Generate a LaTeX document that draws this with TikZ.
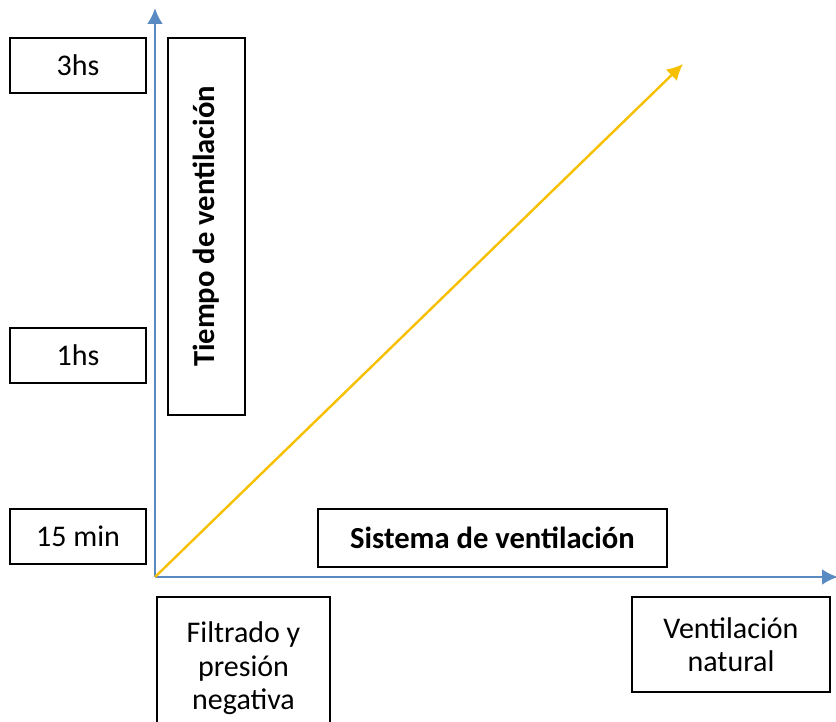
\documentclass[tikz,border=0pt]{standalone}
\usepackage{fontspec}
\setmainfont{Carlito}
\usetikzlibrary{arrows.meta}

\definecolor{axisblue}{HTML}{5A8AC2}
\definecolor{trendyellow}{HTML}{F6C000}

\begin{document}
\begin{tikzpicture}[
      x=0.5pt, y=-0.5pt,
      box/.style = {draw, line width=0.9pt, inner sep=0pt, align=center,
                    font=\fontsize{15}{16.8}\selectfont},
      tickbox/.style = {box, minimum width=68pt, minimum height=27.5pt},
      axis/.style = {axisblue, line width=1.4pt},
      trend/.style = {trendyellow, line width=1.2pt},
      >={Latex[length=8pt,width=8pt]}
    ]
    \useasboundingbox (0,0) rectangle (836,722);

    % ejes
    \coordinate (origin) at (155,577);
    \coordinate (ytip)   at (155,8);
    \coordinate (xtip)   at (838,577);
    \coordinate (ttip)   at (683,64);

    \draw[axis,->] (origin) -- (ytip);
    \draw[axis,->] (origin) -- (xtip);
    \draw[trend,->] (origin) -- (ttip);

    % niveles de tiempo
    \foreach \name/\y/\txt in {tres/65.5/3hs, una/355.5/1hs, quince/536.5/15 min}{
      \node[tickbox] (\name) at (78,\y) {\txt};
    }

    % titulos de los ejes
    \node[box, minimum width=38.5pt, minimum height=188.5pt] (tiempo) at (206.5,226.5) {};
    \node[font=\fontsize{15.3}{16.8}\selectfont\bfseries, rotate=90] (tiempolbl) at (tiempo.center) {Tiempo de ventilación};
    \node[box, font=\fontsize{15.3}{16.8}\selectfont\bfseries,
          minimum width=174.5pt, minimum height=29pt] (sistema) at (492.5,538) {Sistema de ventilación};

    % sistemas
    \node[box, minimum width=86.5pt, minimum height=71.5pt] (filtrado) at (243.5,668.5)
      {Filtrado y\\presión\\negativa};
    \node[box, minimum width=99pt, minimum height=47.5pt] (natural) at (731,644.5)
      {Ventilación\\natural};
  \end{tikzpicture}
\end{document}
